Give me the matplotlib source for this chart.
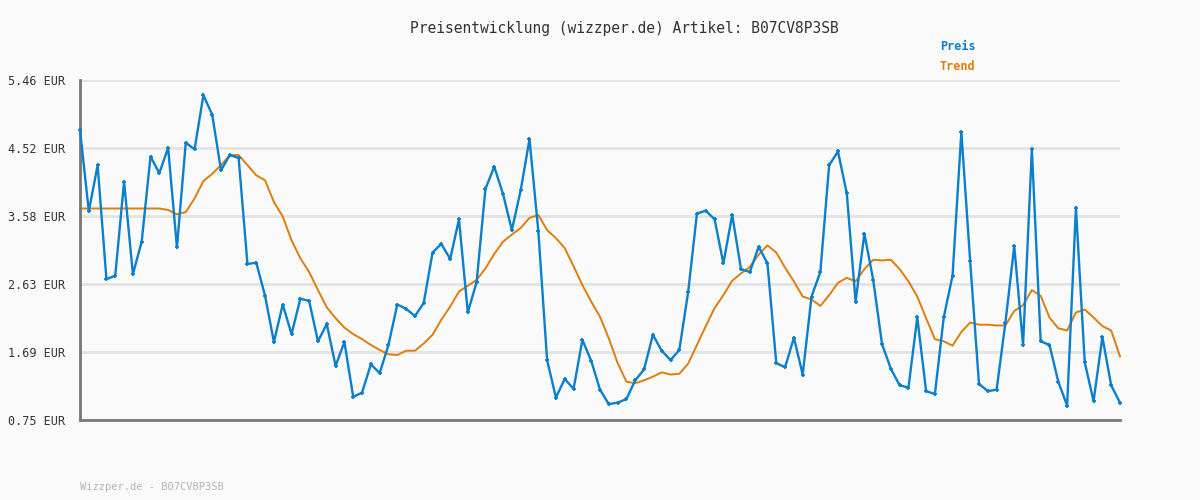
import matplotlib
matplotlib.use("Agg")
import matplotlib.pyplot as plt

preis = [4.77, 3.64, 4.28, 2.70, 2.75, 4.05, 2.77, 3.22, 4.40, 4.17,
         4.52, 3.14, 4.59, 4.50, 5.25, 4.98, 4.21, 4.42, 4.38, 2.91,
         2.93, 2.47, 1.83, 2.35, 1.94, 2.43, 2.40, 1.84, 2.08, 1.50,
         1.83, 1.07, 1.13, 1.52, 1.40, 1.79, 2.35, 2.29, 2.19, 2.37,
         3.07, 3.19, 2.98, 3.53, 2.24, 2.66, 3.95, 4.26, 3.88, 3.38,
         3.93, 4.64, 3.37, 1.58, 1.06, 1.32, 1.18, 1.86, 1.57, 1.17,
         0.97, 0.99, 1.04, 1.30, 1.45, 1.93, 1.71, 1.58, 1.72, 2.52,
         3.61, 3.65, 3.53, 2.92, 3.59, 2.84, 2.80, 3.15, 2.92, 1.54,
         1.48, 1.89, 1.38, 2.46, 2.80, 4.28, 4.47, 3.89, 2.39, 3.33,
         2.69, 1.80, 1.46, 1.23, 1.20, 2.17, 1.15, 1.11, 2.17, 2.75,
         4.74, 2.95, 1.25, 1.15, 1.17, 2.10, 3.16, 1.79, 4.50, 1.84,
         1.79, 1.28, 0.95, 3.69, 1.55, 1.01, 1.90, 1.23, 0.99]

trend = [3.68, 3.68, 3.68, 3.68, 3.68, 3.68, 3.68, 3.68, 3.68, 3.68,
         3.66, 3.60, 3.63, 3.82, 4.06, 4.16, 4.28, 4.42, 4.42, 4.28,
         4.14, 4.07, 3.77, 3.57, 3.24, 2.99, 2.80, 2.55, 2.31, 2.16,
         2.03, 1.94, 1.87, 1.79, 1.72, 1.66, 1.65, 1.71, 1.71, 1.81,
         1.93, 2.14, 2.32, 2.53, 2.61, 2.69, 2.85, 3.05, 3.22, 3.32,
         3.41, 3.55, 3.59, 3.38, 3.27, 3.13, 2.88, 2.62, 2.39, 2.18,
         1.88, 1.54, 1.28, 1.26, 1.30, 1.35, 1.41, 1.38, 1.39, 1.53,
         1.79, 2.05, 2.30, 2.48, 2.68, 2.78, 2.87, 3.04, 3.17, 3.07,
         2.86, 2.67, 2.46, 2.42, 2.33, 2.48, 2.65, 2.72, 2.67, 2.84,
         2.97, 2.96, 2.97, 2.84, 2.67, 2.46, 2.16, 1.87, 1.84, 1.78,
         1.97, 2.10, 2.07, 2.07, 2.06, 2.06, 2.26, 2.34, 2.55, 2.47,
         2.17, 2.02, 1.99, 2.24, 2.28, 2.17, 2.05, 1.99, 1.63]

yticks = [0.75, 1.69, 2.63, 3.58, 4.52, 5.46]
ytick_labels = ["0.75 EUR", "1.69 EUR", "2.63 EUR", "3.58 EUR", "4.52 EUR", "5.46 EUR"]

artikel = "B07CV8P3SB"
blue = "#0a7fcc"
orange = "#df7d0a"
bg = "#fafafa"
mono = "DejaVu Sans Mono"

fig = plt.figure(figsize=(12, 5), dpi=100, facecolor=bg)
ax = fig.add_axes([80 / 1200, 80 / 500, 1040 / 1200, 340 / 500], facecolor=bg)

x = list(range(len(preis)))
ax.plot(x, trend, color=orange, lw=1.4, zorder=3, clip_on=False)
ax.plot(x, preis, color=blue, lw=1.7, marker="+", ms=3.5, mew=1.3, zorder=6,
        clip_on=False)

ax.set_xlim(0, len(preis) - 1)
ax.set_ylim(yticks[0], yticks[-1])
ax.set_yticks(yticks)
ax.set_yticklabels(ytick_labels, fontfamily=mono, fontsize=8.5, color="#333333")
ax.set_xticks([])
ax.tick_params(axis="y", length=0, pad=11)
ax.grid(axis="y", color="#e3e3e3", lw=2, zorder=0)

for s in ["top", "right"]:
    ax.spines[s].set_visible(False)
for s in ["left", "bottom"]:
    ax.spines[s].set_color("#777777")
    ax.spines[s].set_linewidth(2)
    ax.spines[s].set_zorder(5)

fig.text(624 / 1200, 1 - 28 / 500, "Preisentwicklung (wizzper.de) Artikel: " + artikel,
         ha="center", va="center", fontfamily=mono, fontsize=10.5, color="#333333")
fig.text(940 / 1200, 1 - 47 / 500, "Preis", ha="left", va="center",
         fontfamily=mono, fontsize=8.5, fontweight="bold", color=blue)
fig.text(940 / 1200, 1 - 67 / 500, "Trend", ha="left", va="center",
         fontfamily=mono, fontsize=8.5, fontweight="bold", color=orange)
fig.text(80 / 1200, 1 - 487 / 500, "Wizzper.de - " + artikel, ha="left", va="center",
         fontfamily=mono, fontsize=7.5, color="#b5b5b5")

fig.savefig("out.png", dpi=100, facecolor=bg)
